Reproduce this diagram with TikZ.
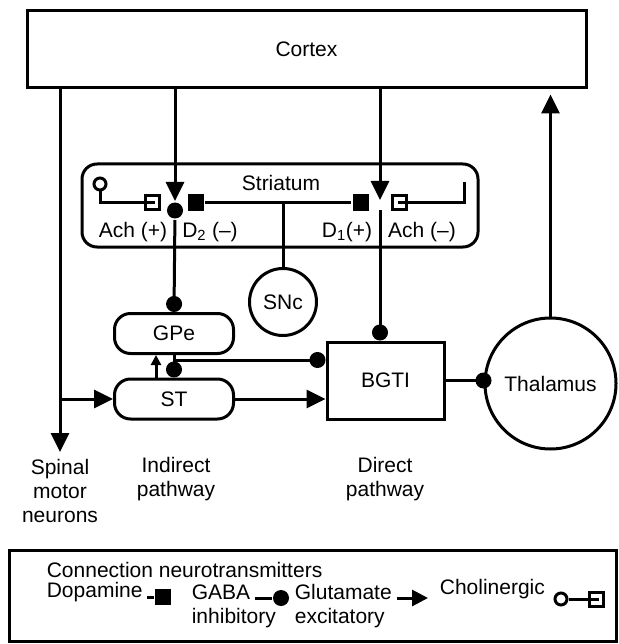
\documentclass[tikz,border=0pt]{standalone}
\usepackage{fontspec}
\setmainfont{Liberation Sans}
\usetikzlibrary{arrows.meta, positioning}

\begin{document}
\begin{tikzpicture}[
    x=1pt, y=-1pt, line width=3pt,
    font=\fontsize{21}{24}\selectfont,
    box/.style={draw, rectangle, inner sep=0pt},
    pill/.style={draw, rectangle, rounded corners=16pt, minimum width=119pt, minimum height=40pt},
    hub/.style={draw, circle, inner sep=0pt},
    glu/.style={-{Triangle[length=19pt, width=18pt]}},
    glusmall/.style={-{Triangle[length=10pt, width=10pt]}},
    gaba/.style={-{Circle[length=16pt]}},
    dot/.style={circle, fill, inner sep=0pt, minimum size=16pt},
    dopa/.style={rectangle, fill, inner sep=0pt, minimum size=16pt},
    achterm/.style={rectangle, draw, inner sep=0pt, minimum size=14pt},
    achsrc/.style={circle, draw, inner sep=0pt, minimum size=12pt}
]
  \useasboundingbox (0,0) rectangle (618,644);

  \node[box, minimum width=559pt, minimum height=77pt] (cortex) at (306.5,49.5) {Cortex};
  \node[box, rounded corners=15pt, minimum width=396pt, minimum height=83pt] (striatum) at (280,205.5) {};
  \node (striatumlbl) at (281,183) {Striatum};
  \node[hub, minimum size=67pt] (snc) at (283,302) {SNc};
  \node[pill] (gpe) at (174,333.5) {GPe};
  \node[pill] (st) at (174,399) {ST};
  \node[box, minimum width=117pt, minimum height=77pt] (bgti) at (385.5,380.5) {BGTI};
  \node[hub, minimum size=131pt] (thal) at (550.5,383.5) {Thalamus};

  \node[achsrc] (achsrcL) at (100,184) {};
  \node[achterm] (achL) at (152.5,202.5) {};
  \node[dot] (d2) at (175,210.5) {};
  \node[dopa] (dopaL) at (195.5,202.5) {};
  \node[dopa] (dopaR) at (360.5,202.5) {};
  \node[achterm] (achR) at (399.5,202.5) {};
  \coordinate (achendR) at (464,182);
  \coordinate (d1tip) at (380,200);
  \coordinate (d1out) at (380,210);
  \coordinate (gpejn) at (174,360);
  \coordinate (spinal) at (60,452);

  \node (achLlbl) at (133,232) {Ach (+)};
  \node (d2lbl) at (210,232) {D\textsubscript{2} (–)};
  \node (d1lbl) at (347,232) {D\textsubscript{1}(+)};
  \node (achRlbl) at (422,232) {Ach (–)};

  \draw (achsrcL.south) |- ([xshift=2pt]achL.center);
  \draw (achendR) |- ([xshift=-2pt]achR.center);
  \draw (dopaL) -- (dopaR);
  \draw (snc) -- (snc |- dopaL);

  \draw[glu] (cortex.south -| d2) -- (d2.north);
  \draw[glu] (cortex.south -| d1tip) -- (d1tip);
  \draw[glu] (cortex.south -| spinal) -- (spinal);
  \draw[glu] (spinal |- st.west) -- (st.west);
  \draw[glu, shorten >=5pt] (thal.north) -- (thal.north |- cortex.south);

  \draw[gaba] (d2) -- (gpe.north);
  \draw[gaba] (d1out) -- (d1out |- bgti.north);
  \draw[gaba] (gpe.south) -- (st.north);
  \draw[gaba] (gpejn) -- (gpejn -| bgti.west);
  \draw[glusmall] ([xshift=-18pt]st.north) -- ([xshift=-18pt]gpe.south);
  \draw[glu] (st.east) -- (st.east -| bgti.west);
  \draw (bgti.east) -- (bgti.east -| thal.west);
  \node[dot] (thaldot) at (bgti.east -| thal.west) {};

  \node[align=center] (spinallbl) at (60,491) {Spinal\\motor\\neurons};
  \node[align=center] (indirect) at (176,479) {Indirect\\pathway};
  \node[align=center] (direct) at (385,479) {Direct\\pathway};

  \node[box, minimum width=607pt, minimum height=91pt] (legend) at (312.5,595.5) {};
  \node[anchor=west] (legtitle) at (42,570) {Connection neurotransmitters};
  \node[anchor=west] (dopalbl) at (42,592) {Dopamine};
  \node[dopa] (dopakey) at (163,597) {};
  \node[anchor=west] (gabalbl) at (187,592) {GABA};
  \node[anchor=west] (inhiblbl) at (187,618) {inhibitory};
  \node[dot] (gabakey) at (281,598) {};
  \node[anchor=west] (glulbl) at (290,592) {Glutamate};
  \node[anchor=west] (exclbl) at (290,618) {excitatory};
  \coordinate (glukey) at (428,598);
  \node[anchor=west] (cholbl) at (435,589) {Cholinergic};
  \node[achsrc] (cholsrc) at (561,599) {};
  \node[achterm] (cholterm) at (596.5,599) {};

  \draw (dopalbl.east |- dopakey) -- (dopakey);
  \draw (gabalbl.east |- gabakey) -- (gabakey);
  \draw[-{Triangle[length=16pt, width=16pt]}] (glulbl.east |- glukey) -- (glukey);
  \draw (cholsrc) -- ([xshift=2pt]cholterm.center);
\end{tikzpicture}
\end{document}
